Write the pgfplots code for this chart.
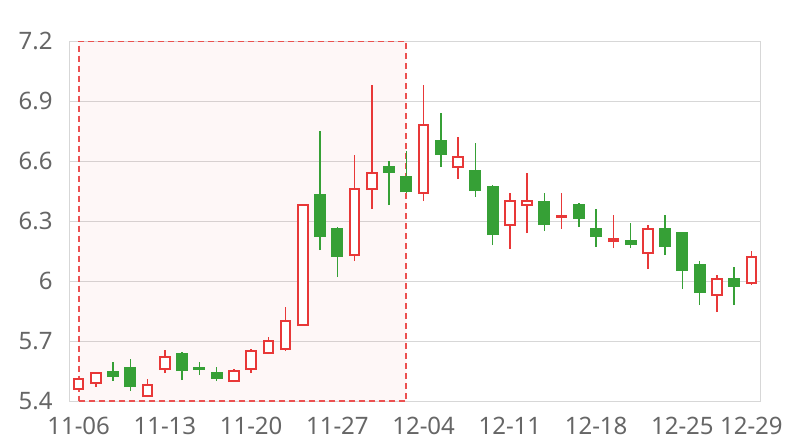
\documentclass[border=0pt]{standalone}
\usepackage{fontspec}
\setmainfont{Noto Sans}
\usepackage{pgfplots}
\usepackage{pgfplotstable}
\pgfplotsset{compat=1.18}

\definecolor{upred}{RGB}{232,56,56}
\definecolor{downgreen}{RGB}{54,160,54}
\definecolor{gridgray}{RGB}{215,215,215}
\definecolor{labelgray}{RGB}{102,102,102}
\definecolor{areared}{RGB}{236,80,80}

% x = trading-day index, o = open, h = high, l = low, c = close
% rising days (close >= open)
\pgfplotstableread{
x o h l c
0 5.46 5.51 5.455 5.51
1 5.49 5.545 5.47 5.54
4 5.425 5.51 5.42 5.48
5 5.56 5.655 5.54 5.62
9 5.50 5.56 5.495 5.55
10 5.56 5.66 5.54 5.65
11 5.64 5.72 5.635 5.70
12 5.66 5.87 5.65 5.80
13 5.78 6.38 5.78 6.38
16 6.13 6.63 6.10 6.46
17 6.46 6.98 6.36 6.54
20 6.44 6.98 6.40 6.78
22 6.57 6.72 6.51 6.62
25 6.28 6.44 6.16 6.40
26 6.38 6.54 6.24 6.40
28 6.32 6.44 6.26 6.325
31 6.20 6.33 6.165 6.21
33 6.14 6.28 6.06 6.26
37 5.93 6.03 5.845 6.01
39 5.99 6.15 5.98 6.12
}\uptab
% falling days (close < open)
\pgfplotstableread{
x o h l c
2 5.55 5.595 5.50 5.52
3 5.57 5.61 5.45 5.47
6 5.64 5.645 5.505 5.55
7 5.57 5.595 5.53 5.555
8 5.545 5.57 5.50 5.51
14 6.435 6.75 6.155 6.22
15 6.265 6.27 6.02 6.12
18 6.575 6.60 6.38 6.54
19 6.525 6.65 6.44 6.445
21 6.705 6.84 6.57 6.63
23 6.555 6.69 6.42 6.45
24 6.475 6.48 6.18 6.23
27 6.40 6.44 6.25 6.28
29 6.385 6.39 6.27 6.31
30 6.265 6.36 6.17 6.22
32 6.205 6.29 6.165 6.18
34 6.265 6.33 6.13 6.17
35 6.245 6.245 5.96 6.05
36 6.085 6.10 5.88 5.94
38 6.015 6.07 5.88 5.97
}\downtab

\begin{document}
\begin{tikzpicture}
\begin{axis}[
  scale only axis,
  width=345pt, height=180pt,
  xmin=-0.5, xmax=39.5, ymin=5.4, ymax=7.2,
  axis line style={draw=gridgray, line width=0.5pt},
  ymajorgrids, grid style={draw=gridgray, line width=0.5pt},
  major tick length=0pt,
  xtick={0,5,10,15,20,25,30,35,39},
  xticklabels={11-06,11-13,11-20,11-27,12-04,12-11,12-18,12-25,12-29},
  ytick={5.4,5.7,6,6.3,6.6,6.9,7.2},
  yticklabels={5.4,5.7,6,6.3,6.6,6.9,7.2},
  tick label style={font=\fontsize{12}{14}\selectfont, text=labelgray},
  yticklabel style={anchor=east, inner sep=0pt, xshift=-8.5pt},
  xticklabel style={anchor=north, inner sep=0pt, yshift=-8pt},
  candle/.style={draw=none, no markers,
    error bars/y dir=plus, error bars/y explicit, error bars/error mark=none},
]
% highlighted period
\addplot[draw=areared, fill=upred, fill opacity=0.04, dash pattern=on 3pt off 2pt, line width=1.1pt]
  coordinates {(0,5.4) (19,5.4) (19,7.2) (0,7.2) (0,5.4)};
% wicks
\addplot[candle, error bars/error bar style={draw=upred, line width=0.8pt}]
  table[x=x, y=l, y error plus expr=\thisrow{h}-\thisrow{l}] {\uptab};
\addplot[candle, error bars/error bar style={draw=downgreen, line width=0.8pt}]
  table[x=x, y=l, y error plus expr=\thisrow{h}-\thisrow{l}] {\downtab};
% falling bodies (filled)
\addplot[candle, error bars/error bar style={draw=downgreen, line width=6pt}]
  table[x=x, y=c, y error plus expr=\thisrow{o}-\thisrow{c}+0.002] {\downtab};
% rising bodies (hollow): red outline then white inside
\addplot[candle, error bars/error bar style={draw=upred, line width=5.75pt}]
  table[x=x, y expr=\thisrow{o}-0.005, y error plus expr=\thisrow{c}-\thisrow{o}+0.01] {\uptab};
\addplot[candle, error bars/error bar style={draw=white, line width=3.75pt}]
  table[x=x, y expr=\thisrow{o}+0.005, y error plus expr={max(\thisrow{c}-\thisrow{o}-0.01,0)}] {\uptab};
\end{axis}
\pgfresetboundingbox
\path ([shift={(-35pt,-19.5pt)}]current axis.south west) rectangle ([shift={(20pt,20.5pt)}]current axis.north east);
\end{tikzpicture}
\end{document}
